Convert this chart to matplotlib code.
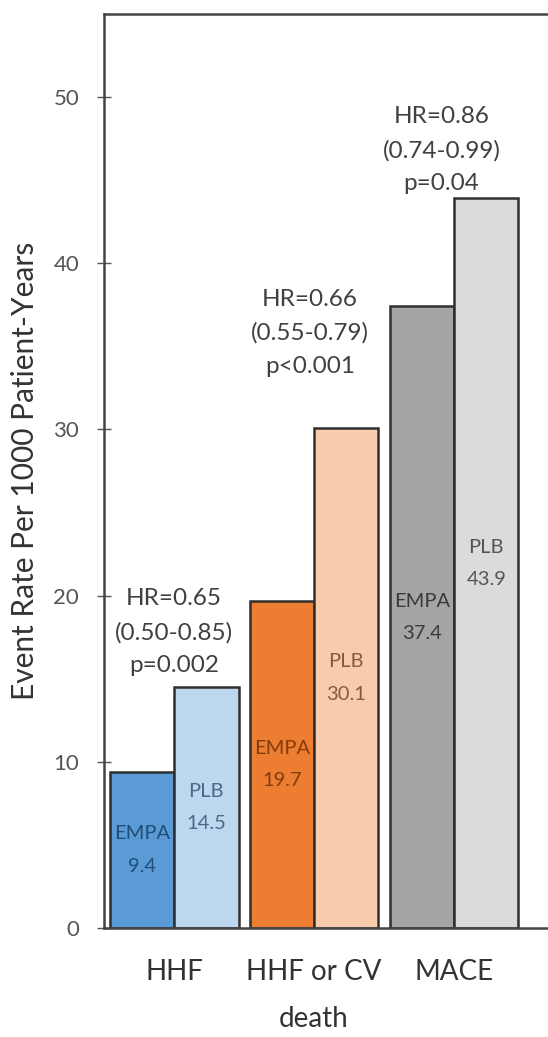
import matplotlib
matplotlib.use("Agg")
import matplotlib.pyplot as plt
import numpy as np

plt.rcParams["font.family"] = ["Lato", "DejaVu Sans"]

categories = ["HHF", "HHF or CV\ndeath", "MACE"]
empa = [9.4, 19.7, 37.4]
plb = [14.5, 30.1, 43.9]
hr_text = [
    "HR=0.65\n(0.50-0.85)\np=0.002",
    "HR=0.66\n(0.55-0.79)\np<0.001",
    "HR=0.86\n(0.74-0.99)\np=0.04",
]
hr_pos = [(0.0, 17.8), (0.97, 35.8), (1.91, 46.8)]

empa_colors = ["#5b9bd5", "#ed7d31", "#a5a5a5"]
plb_colors = ["#bdd7ee", "#f8cbad", "#dbdbdb"]
empa_text = ["#1f4e79", "#843c0c", "#3a3a3a"]
plb_text = ["#4a6a8a", "#8a5a3a", "#555555"]

fig = plt.figure(figsize=(5.48, 10.37), dpi=100)
ax = fig.add_axes([0.19, 0.105, 0.81, 0.8816])

x = np.arange(len(categories))
w = 0.46
ax.bar(x - w / 2, empa, w, color=empa_colors, edgecolor="#2f2f2f", linewidth=1.8)
ax.bar(x + w / 2, plb, w, color=plb_colors, edgecolor="#2f2f2f", linewidth=1.8)

for i in range(len(categories)):
    ax.text(x[i] - w / 2, empa[i] / 2, f"EMPA\n{empa[i]}", ha="center", va="center",
            fontsize=14.5, color=empa_text[i], linespacing=2.1)
    ax.text(x[i] + w / 2, plb[i] / 2, f"PLB\n{plb[i]}", ha="center", va="center",
            fontsize=14.5, color=plb_text[i], linespacing=2.1)
    ax.text(hr_pos[i][0], hr_pos[i][1], hr_text[i], ha="center", va="center",
            fontsize=17.5, color="#404040", linespacing=1.7)

ax.set_xlim(-0.5, 2.671)
ax.set_ylim(0, 55)
ax.set_yticks([0, 10, 20, 30, 40, 50])
ax.set_xticks(x)
ax.set_xticklabels(categories, fontsize=20, color="#333333", linespacing=2.0)
ax.tick_params(axis="x", length=0, pad=22)
ax.tick_params(axis="y", direction="inout", length=10, width=1, colors="#555555",
               labelsize=16, pad=13)
ax.set_ylabel("Event Rate Per 1000 Patient-Years", fontsize=21.5, color="#333333", labelpad=10)

ax.spines["right"].set_visible(False)
for s in ["left", "top", "bottom"]:
    ax.spines[s].set_color("#444444")
    ax.spines[s].set_linewidth(1.8)

fig.savefig("out.png", dpi=100)
